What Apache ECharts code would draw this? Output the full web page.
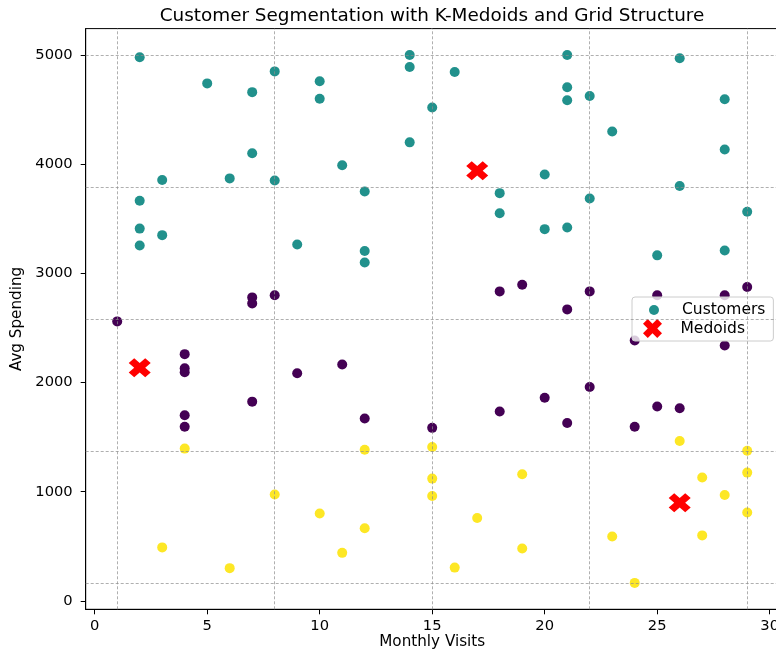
<!DOCTYPE html>
<html>
<head>
<meta charset="utf-8">
<script src="https://cdn.jsdelivr.net/npm/echarts@6/dist/echarts.min.js"></script>
<style>
  html, body { margin: 0; padding: 0; background: #ffffff; }
  #chart { width: 776px; height: 649px; }
</style>
</head>
<body>
<div id="chart"></div>
<script>
// ---- data ----
const tealPoints = [
  [2,4980],[5,4740],[7,4660],[8,4850],[10,4760],[10,4600],[14,5000],[14,4890],[15,4520],[14,4200],
  [7,4100],[11,3990],[3,3855],[6,3870],[8,3850],[12,3750],[2,3665],[2,3410],[3,3350],[2,3255],
  [9,3265],[12,3205],[12,3100],[21,5000],[16,4845],[21,4705],[21,4585],[22,4625],[26,4970],[28,4595],
  [23,4300],[28,4135],[20,3905],[26,3800],[18,3735],[18,3550],[22,3685],[29,3565],[20,3405],[21,3420],
  [28,3210],[25,3165]
];
const purplePoints = [
  [18,2835],[19,2895],[22,2835],[25,2800],[28,2800],[29,2875],[21,2670],[24,2385],[28,2340],[22,1960],
  [20,1860],[18,1735],[25,1780],[26,1765],[21,1630],[24,1595],[15,1585],[7,2780],[7,2725],[8,2800],
  [1,2560],[4,2260],[4,2130],[4,2095],[9,2085],[11,2165],[7,1825],[4,1700],[4,1595],[12,1670]
];
const yellowPoints = [
  [4,1395],[12,1385],[15,1410],[15,1120],[15,960],[8,975],[10,800],[12,665],[3,490],[11,440],
  [6,300],[26,1465],[29,1375],[29,1175],[19,1160],[27,1130],[28,970],[29,810],[17,760],[23,590],
  [27,600],[19,480],[16,305],[24,165]
];
const medoidPoints = [[17,3940],[2,2135],[26,900]];
const gridX = [1, 8, 15, 22, 29];
const gridY = [165, 1374, 2583, 3791, 5000];
const xTicks = [0, 5, 10, 15, 20, 25, 30];
const yTicks = [0, 1000, 2000, 3000, 4000, 5000];

const COL_TEAL = '#21918c', COL_PURPLE = '#440154', COL_YELLOW = '#fde725';
const FONT = 'DejaVu Sans';
const X_PATH = 'path://M5,20L0,15L5,10L0,5L5,0L10,5L15,0L20,5L15,10L20,15L15,20L10,15Z';

function withColor(points, color) {
  return points.map(p => ({ value: p, itemStyle: { color: color } }));
}
const customerData = []
  .concat(withColor(tealPoints, COL_TEAL))
  .concat(withColor(purplePoints, COL_PURPLE))
  .concat(withColor(yellowPoints, COL_YELLOW));

const chart = echarts.init(document.getElementById('chart'), null, { renderer: 'canvas' });
chart.setOption({
  animation: false,
  backgroundColor: '#ffffff',
  textStyle: { fontFamily: FONT },
  title: {
    text: 'Customer Segmentation with K-Medoids and Grid Structure',
    left: 432,
    textAlign: 'center',
    top: 7,
    padding: 0,
    textStyle: { fontFamily: FONT, fontSize: 18.4, fontWeight: 'normal', color: '#000000' }
  },
  grid: {
    left: 85.7, top: 28.6, width: 693, height: 580.7,
    outerBoundsMode: 'none',
    show: true, borderColor: '#000000', borderWidth: 1, backgroundColor: 'transparent',
    containLabel: false
  },
  legend: [
    {
      data: [{ name: 'Customers', icon: 'circle' }],
      orient: 'vertical',
      left: 632, top: 297,
      padding: [5, 8, 23, 17],
      itemWidth: 10, itemHeight: 10,
      selectedMode: false,
      backgroundColor: 'rgba(255,255,255,0.8)',
      borderColor: '#cccccc', borderWidth: 1, borderRadius: 3,
      textStyle: { fontFamily: FONT, fontSize: 15.5, color: '#000000', padding: [0, 0, 0, 18] }
    },
    {
      data: [{ name: 'Medoids', icon: X_PATH }],
      orient: 'vertical',
      left: 643, top: 319,
      padding: 0,
      itemWidth: 22, itemHeight: 19,
      selectedMode: false,
      textStyle: { fontFamily: FONT, fontSize: 15.5, color: '#000000', padding: [0, 0, 0, 12] }
    }
  ],
  xAxis: {
    type: 'value',
    min: -0.4, max: 30.4,
    name: 'Monthly Visits',
    nameLocation: 'middle',
    nameMoveOverlap: false,
    nameGap: 25,
    nameTextStyle: { fontFamily: FONT, fontSize: 15.2, color: '#000000' },
    axisLine: { show: true, onZero: false, lineStyle: { color: '#000000', width: 1 } },
    axisTick: { show: true, inside: false, length: 5, customValues: xTicks, lineStyle: { color: '#000000' } },
    axisLabel: { customValues: xTicks, margin: 9, fontFamily: FONT, fontSize: 14.7, color: '#000000',
                 formatter: v => String(v) },
    splitLine: { show: false }
  },
  yAxis: {
    type: 'value',
    min: -77, max: 5242,
    name: 'Avg Spending',
    nameLocation: 'middle',
    nameGap: 57,
    nameTextStyle: { fontFamily: FONT, fontSize: 15.2, color: '#000000' },
    axisLine: { show: true, onZero: false, lineStyle: { color: '#000000', width: 1 } },
    axisTick: { show: true, inside: false, length: 5, customValues: yTicks, lineStyle: { color: '#000000' } },
    axisLabel: { customValues: yTicks, margin: 13, fontFamily: FONT, fontSize: 14.7, color: '#000000',
                 formatter: v => String(v) },
    splitLine: { show: false }
  },
  series: [
    {
      name: 'grid-structure',
      type: 'scatter',
      data: [],
      z: 1,
      silent: true,
      markLine: {
        silent: true,
        symbol: ['none', 'none'],
        label: { show: false },
        lineStyle: { color: '#8c8c8c', type: [3, 2], width: 0.7 },
        data: gridX.map(v => ({ xAxis: v })).concat(gridY.map(v => ({ yAxis: v })))
      }
    },
    {
      name: 'Customers',
      type: 'scatter',
      z: 2,
      symbol: 'circle',
      symbolSize: 10,
      itemStyle: { color: COL_TEAL, opacity: 1 },
      data: customerData
    },
    {
      name: 'Medoids',
      type: 'scatter',
      z: 3,
      symbol: X_PATH,
      symbolSize: [22, 19],
      itemStyle: { color: '#ff0000', opacity: 1 },
      data: medoidPoints
    }
  ]
});
</script>
</body>
</html>
